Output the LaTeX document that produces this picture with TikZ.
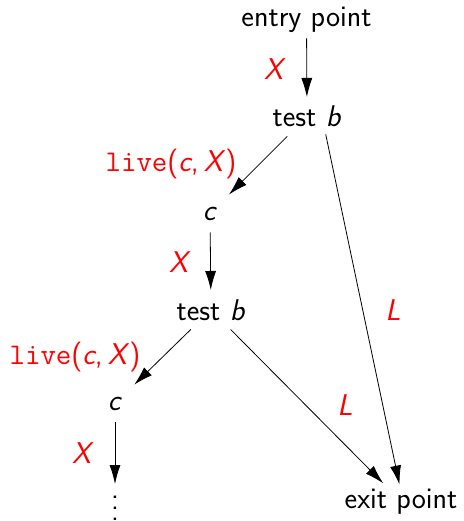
\documentclass[tikz,border=0pt]{standalone}
\usepackage{fontspec}
\usetikzlibrary{arrows.meta}
\begin{document}
\begin{tikzpicture}[x=1pt,y=-1pt,
  every node/.style={font=\fontsize{30}{35}\selectfont\sffamily},
  lbl/.style={text=red, anchor=center, inner sep=0pt},
  blk/.style={anchor=base, inner sep=5pt},
  tst/.style={anchor=base, inner sep=9pt},
  cnd/.style={anchor=base, inner sep=12pt},
  arr/.style={-{Latex[length=19pt,width=11pt]}, line width=0.8pt},
]
\useasboundingbox (0,0) rectangle (463,521);
% nodes
\node[blk] (entry) at (306.5,27) {entry point};
\node[tst] (t1) at (307,127) {test \textit{b}};
\node[cnd] (c1) at (210,220) {\textit{c}};
\node[tst] (t2) at (211,320) {test \textit{b}};
\node[cnd] (c2) at (115,410) {\textit{c}};
\node[anchor=north, inner sep=0pt] (dots) at (115,496)
  {\vbox{\baselineskip=11pt\lineskiplimit=0pt\hbox{.}\hbox{.}\hbox{.}}};
\node[blk] (exit) at (401,508) {exit point};
% labels
\node[lbl] (x1) at (275,69) {\textit{X}};
\node[lbl] (l1) at (171,164) {{\ttfamily live}(\textit{c},\,\textit{X})};
\node[lbl] (x2) at (180,262) {\textit{X}};
\node[lbl] (l2) at (75,357) {{\ttfamily live}(\textit{c},\,\textit{X})};
\node[lbl] (x3) at (83,453) {\textit{X}};
\node[lbl] (L1) at (393,310) {\textit{L}};
\node[lbl] (L2) at (345,405) {\textit{L}};
% connectors
\draw[arr] (entry) -- (t1);
\draw[arr] (t1) -- (c1);
\draw[arr] (c1) -- (t2);
\draw[arr] (t2) -- (c2);
\draw[arr, shorten >=12pt] (c2) -- (dots);
\draw[arr] (t2) -- (exit);
\draw[arr, shorten <=18pt, shorten >=17pt] ([xshift=15pt]t1.center) -- ([xshift=2pt]exit.center);
\end{tikzpicture}
\end{document}
